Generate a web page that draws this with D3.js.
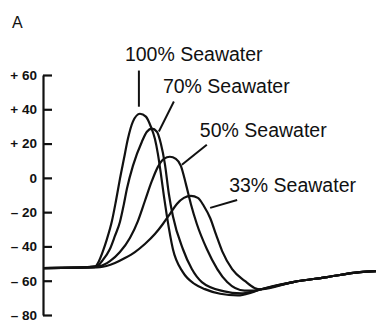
<!DOCTYPE html>
<html>
<head>
<meta charset="utf-8">
<script src="https://cdn.jsdelivr.net/npm/d3@7"></script>
<style>
  body { margin: 0; background: #fff; }
  svg { display: block; }
</style>
</head>
<body>
<div id="chart"></div>
<script>
// membrane potential (mV) vs time (ms, arbitrary origin)
const yTicks = [-80, -60, -40, -20, 0, 20, 40, 60];

// shared slow recovery after the traces merge
const tail = [[6.55, -65.0], [7.51, -60.8], [8.53, -57.9], [9.52, -55.0], [10, -54.4]];

const s100 = [[0, -52.6], [1.0, -52.4], [1.56, -52.1], [1.65, -49.7], [1.80, -42.7], [1.92, -35.7],
  [2.07, -25.2], [2.19, -13.5], [2.31, -0.6], [2.43, 11.1], [2.55, 22.8], [2.70, 32.8], [2.91, 37.4],
  [3.09, 35.7], [3.24, 29.8], [3.36, 22.8], [3.45, 14.0], [3.54, 2.3], [3.63, -10.5], [3.72, -22.2],
  [3.90, -41.5], [4.20, -55.0], [4.56, -62.0], [4.86, -64.9], [5.32, -67.6], [5.85, -68.6],
  [6.25, -67.0]];

const s70 = [[0, -52.6], [1.0, -52.4], [1.62, -51.5], [1.77, -48.6], [2.01, -41.5], [2.16, -33.9],
  [2.31, -25.7], [2.43, -15.2], [2.52, -6.4], [2.70, 7.0], [2.97, 21.1], [3.12, 26.9], [3.27, 28.7],
  [3.42, 26.9], [3.54, 19.9], [3.66, 8.2], [3.78, -9.4], [3.90, -22.2], [4.20, -41.5], [4.47, -53.2],
  [4.77, -60.8], [5.41, -66.1], [5.95, -67.4], [6.30, -66.3]];

const s50 = [[0, -52.6], [1.0, -52.4], [1.71, -51.5], [2.01, -48.6], [2.31, -43.3], [2.61, -35.1],
  [2.85, -25.2], [3.06, -13.5], [3.27, -1.8], [3.45, 6.4], [3.63, 11.1], [3.81, 12.3], [3.99, 11.1],
  [4.14, 7.0], [4.29, -3.5], [4.44, -15.2], [4.62, -26.9], [4.92, -41.5], [5.53, -60.8],
  [6.05, -65.8], [6.35, -65.7]];

const s33 = [[0, -52.6], [1.0, -52.4], [1.71, -52.1], [2.16, -49.7], [2.46, -46.8], [2.76, -43.3],
  [3.06, -38.6], [3.36, -32.8], [3.60, -26.9], [3.81, -21.1], [4.02, -15.2], [4.23, -11.7],
  [4.44, -10.5], [4.65, -11.7], [4.83, -16.4], [5.02, -23.4], [5.20, -33.3], [5.38, -42.7],
  [5.68, -53.2], [6.07, -60.3], [6.35, -64.2]];

const labels = ["100% Seawater", "70% Seawater", "50% Seawater", "33% Seawater"];

const width = 376, height = 320;

const svg = d3.select("#chart").append("svg")
  .attr("width", width)
  .attr("height", height);

const x = d3.scaleLinear().domain([0, 10]).range([43, 376]);
const y = d3.scaleLinear().domain([-80, 60]).range([315, 75]);

const fmt = d => d > 0 ? "+ " + d : d < 0 ? "\u2013 " + (-d) : "0";

const axis = svg.append("g")
  .attr("transform", `translate(${x(0)},0)`)
  .call(d3.axisLeft(y).tickValues(yTicks).tickFormat(fmt)
    .tickSizeInner(-9).tickSizeOuter(0).tickPadding(6));
axis.select(".domain").attr("stroke", "#111").attr("stroke-width", 2.2);
axis.selectAll(".tick line").attr("stroke", "#111").attr("stroke-width", 2.2);
axis.selectAll(".tick text")
  .attr("font-family", "Liberation Sans, Arial, sans-serif")
  .attr("font-size", 13.5)
  .attr("font-weight", "bold")
  .attr("fill", "#111");

const line = d3.line()
  .x(d => x(d[0]))
  .y(d => y(d[1]))
  .curve(d3.curveMonotoneX);

[s100, s70, s50, s33].forEach(s => {
  svg.append("path")
    .attr("d", line(s.concat(tail)))
    .attr("fill", "none")
    .attr("stroke", "#111")
    .attr("stroke-width", 2.2)
    .attr("stroke-linejoin", "round");
});

// label baselines and leader lines (time, mV)
const labelPos = [[2.46, 68.4], [3.60, 49.7], [4.71, 24.0], [5.59, -8.2]];
const leaders = [
  [[2.88, 62.6], [2.88, 41.5]],
  [[3.93, 44.5], [3.48, 27]],
  [[4.92, 19.3], [4.17, 7.6]],
  [[5.83, -12.9], [5.02, -17.5]]
];

const font = "Liberation Sans, Arial, Helvetica, sans-serif";

svg.selectAll("text.lab")
  .data(labels)
  .enter().append("text")
  .attr("class", "lab")
  .attr("x", (d, i) => x(labelPos[i][0]))
  .attr("y", (d, i) => y(labelPos[i][1]))
  .attr("font-family", font)
  .attr("font-size", 19.5)
  .attr("fill", "#111")
  .text(d => d);

leaders.forEach(l => {
  svg.append("line")
    .attr("x1", x(l[0][0])).attr("y1", y(l[0][1]))
    .attr("x2", x(l[1][0])).attr("y2", y(l[1][1]))
    .attr("stroke", "#111")
    .attr("stroke-width", 2);
});

svg.append("text")
  .attr("x", 12)
  .attr("y", 28)
  .attr("font-family", font)
  .attr("font-size", 16)
  .attr("fill", "#111")
  .text("A");
</script>
</body>
</html>
